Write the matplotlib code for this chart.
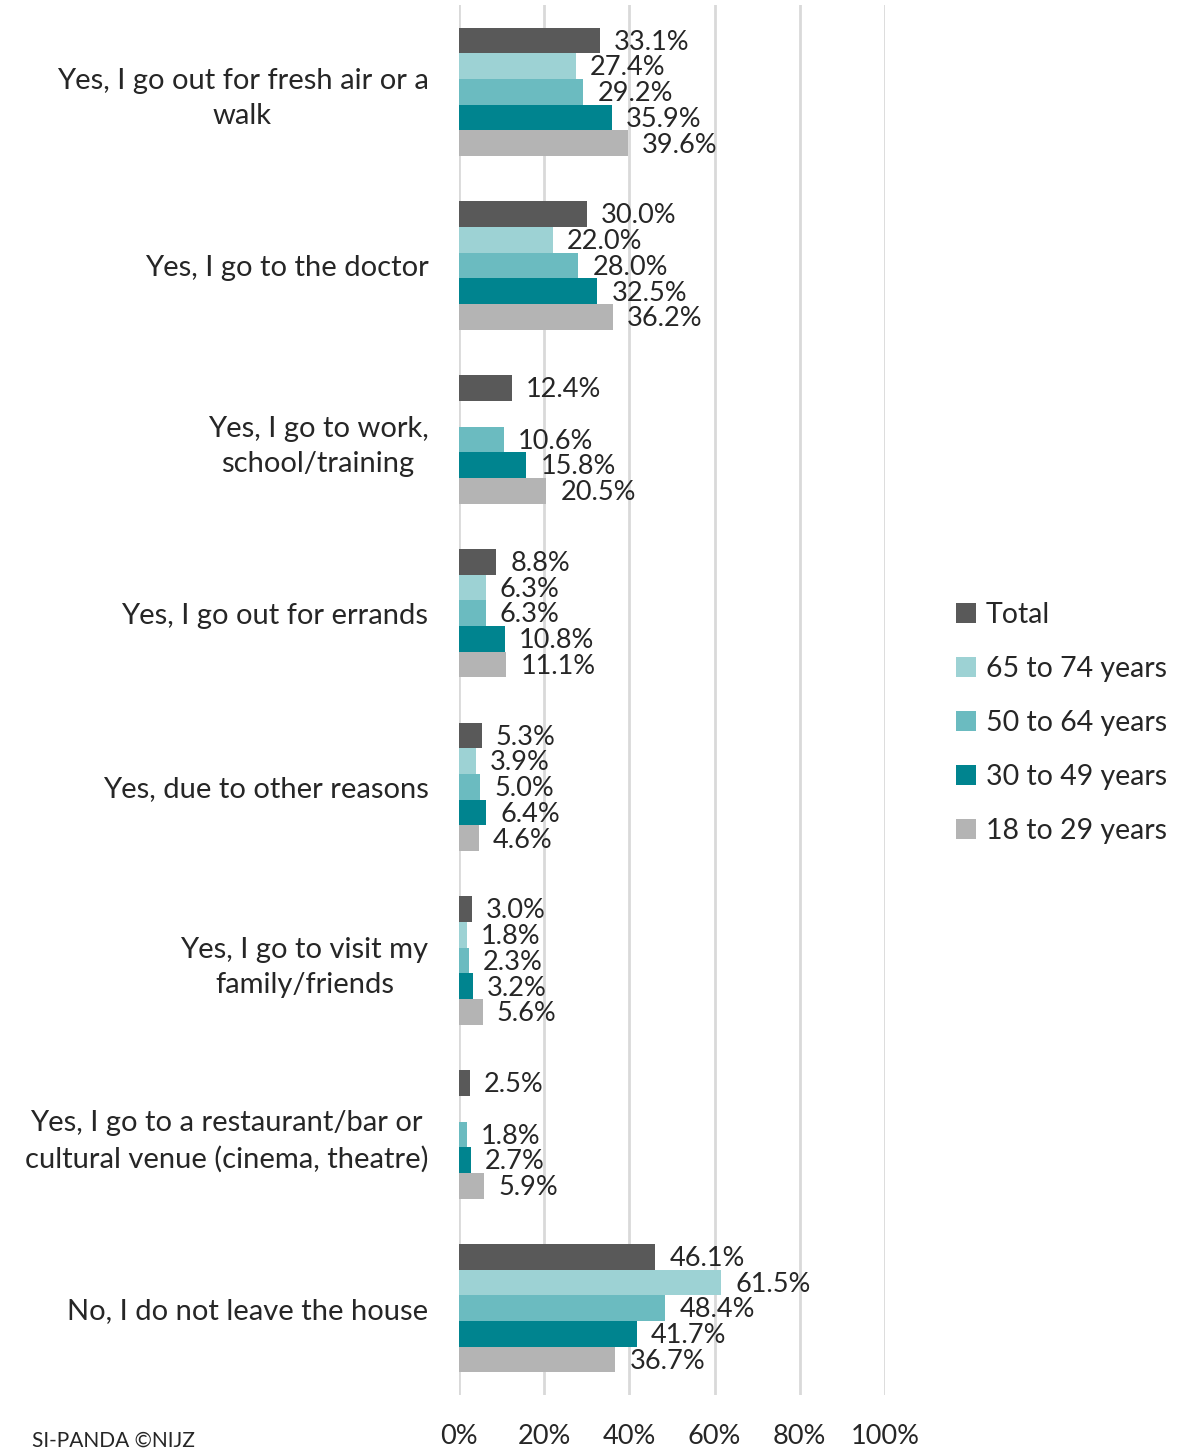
import numpy as np
import matplotlib
matplotlib.use("Agg")
import matplotlib.pyplot as plt

plt.rcParams['font.family'] = ['Lato', 'DejaVu Sans']

categories = [
    "Yes, I go out for fresh air or a\nwalk",
    "Yes, I go to the doctor",
    "Yes, I go to work,\nschool/training",
    "Yes, I go out for errands",
    "Yes, due to other reasons",
    "Yes, I go to visit my\nfamily/friends",
    "Yes, I go to a restaurant/bar or\ncultural venue (cinema, theatre)",
    "No, I do not leave the house",
]
series_names = ["Total", "65 to 74 years", "50 to 64 years", "30 to 49 years", "18 to 29 years"]
total = [33.1, 30.0, 12.4, 8.8, 5.3, 3.0, 2.5, 46.1]
age_65_74 = [27.4, 22.0, np.nan, 6.3, 3.9, 1.8, np.nan, 61.5]
age_50_64 = [29.2, 28.0, 10.6, 6.3, 5.0, 2.3, 1.8, 48.4]
age_30_49 = [35.9, 32.5, 15.8, 10.8, 6.4, 3.2, 2.7, 41.7]
age_18_29 = [39.6, 36.2, 20.5, 11.1, 4.6, 5.6, 5.9, 36.7]
colors = ["#595959", "#9dd2d4", "#6bbbc0", "#00848f", "#b4b4b4"]

series = [total, age_65_74, age_50_64, age_30_49, age_18_29]
txt = "#262626"

fig = plt.figure(figsize=(11.84, 14.52), dpi=100)
ax = fig.add_axes([459 / 1184, 57 / 1452, 426 / 1184, 1390 / 1452])

y = np.arange(len(categories))
h = 0.148
for i, (vals, name, c) in enumerate(zip(series, series_names, colors)):
    pos = y - 2 * h + i * h
    vals = np.array(vals, dtype=float)
    ax.barh(pos, np.nan_to_num(vals), height=h, color=c, label=name, zorder=3)
    for p, v in zip(pos, vals):
        if np.isnan(v):
            continue
        ax.text(v + 3.3, p + 0.01, f"{v:.1f}%", va="center", ha="left",
                fontsize=19.5, color=txt, zorder=4)

ax.set_xlim(0, 100)
ax.set_ylim(len(categories) - 0.5, -0.5)
ax.set_xticks(np.arange(0, 101, 20))
ax.set_xticklabels([f"{t}%" for t in range(0, 101, 20)])
ax.set_yticks(y)
ax.set_yticklabels(categories, multialignment="center", linespacing=1.42)
ax.tick_params(axis="y", length=0, pad=22, labelsize=21, labelcolor=txt)
ax.tick_params(axis="x", length=0, pad=21, labelsize=19.5, labelcolor=txt)
ax.grid(axis="x", color="#d9d9d9", linewidth=2, zorder=0)
for s in ax.spines.values():
    s.set_visible(False)

handles, labels = ax.get_legend_handles_labels()
fig.legend(handles, labels, loc="center left", bbox_to_anchor=(930 / 1184, 1 - 723 / 1452),
           frameon=False, fontsize=20.5, handlelength=0.7, handleheight=0.7,
           handletextpad=0.35, labelspacing=0.98, labelcolor=txt)

fig.text(32 / 1184, 1 / 1452, "SI-PANDA ©NIJZ", ha="left", va="bottom",
         fontsize=15, color=txt)

fig.savefig("out.png", dpi=100)
